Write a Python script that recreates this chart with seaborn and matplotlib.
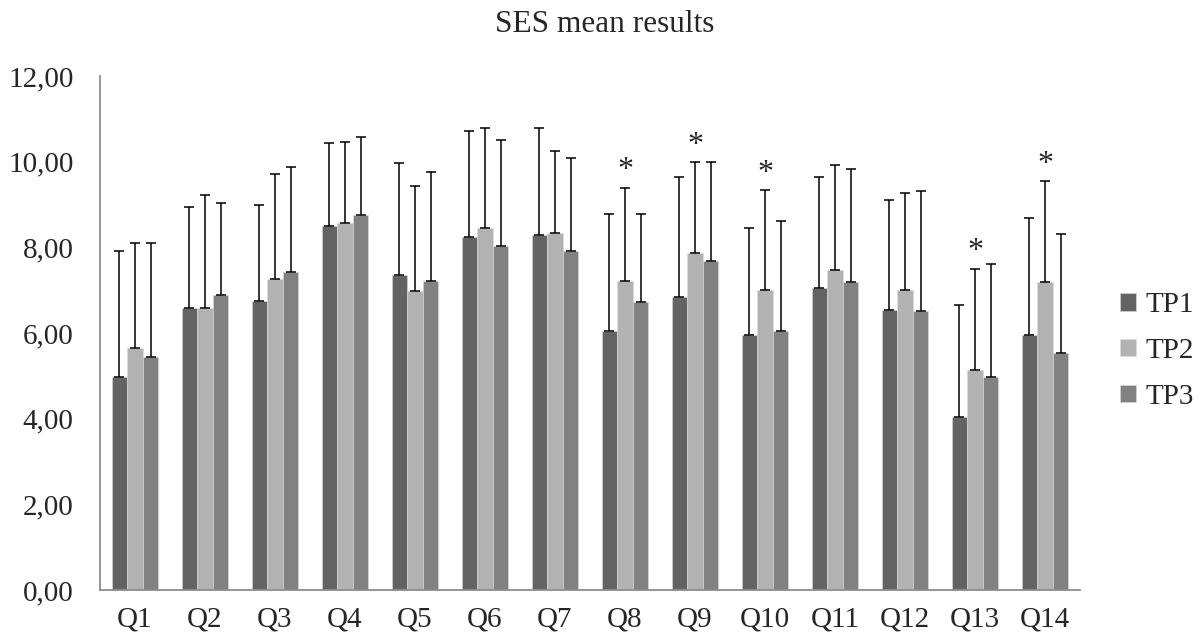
import numpy as np
import pandas as pd
import seaborn as sns
import matplotlib
matplotlib.use("Agg")
import matplotlib.pyplot as plt

questions = ["Q1", "Q2", "Q3", "Q4", "Q5", "Q6", "Q7", "Q8", "Q9", "Q10", "Q11", "Q12", "Q13", "Q14"]
timepoints = ["TP1", "TP2", "TP3"]

tp1_mean = [4.98, 6.58, 6.75, 8.49, 7.36, 8.24, 8.29, 6.04, 6.84, 5.96, 7.05, 6.54, 4.03, 5.96]
tp2_mean = [5.65, 6.58, 7.26, 8.57, 6.97, 8.45, 8.33, 7.22, 7.86, 7.01, 7.48, 7.01, 5.14, 7.18]
tp3_mean = [5.43, 6.89, 7.43, 8.75, 7.22, 8.03, 7.91, 6.72, 7.69, 6.04, 7.18, 6.51, 4.98, 5.53]

tp1_sd = [2.94, 2.37, 2.25, 1.95, 2.61, 2.48, 2.50, 2.73, 2.81, 2.49, 2.59, 2.57, 2.63, 2.72]
tp2_sd = [2.46, 2.65, 2.45, 1.89, 2.46, 2.34, 1.91, 2.17, 2.13, 2.32, 2.44, 2.26, 2.36, 2.36]
tp3_sd = [2.66, 2.15, 2.45, 1.82, 2.54, 2.47, 2.17, 2.06, 2.31, 2.57, 2.66, 2.81, 2.64, 2.78]

# questions with a significant TP1 -> TP2 change (asterisk over TP2)
significant = ["Q8", "Q9", "Q10", "Q13", "Q14"]

colors = ["#636363", "#b2b2b2", "#818181"]

means = [tp1_mean, tp2_mean, tp3_mean]
sds = [tp1_sd, tp2_sd, tp3_sd]

df = pd.DataFrame({
    "question": questions * 3,
    "tp": np.repeat(timepoints, len(questions)),
    "mean": tp1_mean + tp2_mean + tp3_mean,
})

sns.set_style("white")
plt.rcParams["font.family"] = ["Liberation Serif", "DejaVu Serif"]

fig = plt.figure(figsize=(12, 6.4), dpi=100)
ax = fig.add_axes([100 / 1200, 50 / 640, 980 / 1200, 514 / 640])

sns.barplot(data=df, x="question", y="mean", hue="tp", order=questions,
            hue_order=timepoints, palette=colors, saturation=1, width=0.667,
            errorbar=None, edgecolor="#dcdcdc", linewidth=0.4, ax=ax)

# one-sided (upper) error bars, like the Excel original
for cont, m, s in zip(ax.containers, means, sds):
    xs = [p.get_x() + p.get_width() / 2 for p in cont.patches]
    ax.errorbar(xs, m, yerr=[np.zeros(len(m)), s], fmt="none", ecolor="black",
                elinewidth=1.1, capsize=3.4, capthick=1.1)

tp2_x = [p.get_x() + p.get_width() / 2 for p in ax.containers[1].patches]
for i, q in enumerate(questions):
    if q in significant:
        ax.text(tp2_x[i], tp2_mean[i] + tp2_sd[i] + 0.06, "*", ha="center",
                va="bottom", fontsize=23)

ax.set_ylim(0, 12)
ax.set_xlim(-0.5, len(questions) - 0.5)
ax.set_yticks(np.arange(0, 13, 2))
ax.set_yticklabels([f"{v:.2f}".replace(".", ",") for v in np.arange(0, 13, 2)])
ax.tick_params(axis="both", length=0, labelsize=21)
ax.tick_params(axis="y", pad=19)
ax.tick_params(axis="x", pad=12)
ax.set_xlabel("")
ax.set_ylabel("")
for side in ["top", "right"]:
    ax.spines[side].set_visible(False)
for side in ["left", "bottom"]:
    ax.spines[side].set_color("#8c8c8c")
    ax.spines[side].set_linewidth(1.3)

handles, labels = ax.get_legend_handles_labels()
ax.legend(handles, labels, loc="center left", bbox_to_anchor=(1094 / 1200, 1 - 351 / 640),
          bbox_transform=fig.transFigure, frameon=False, fontsize=21,
          handlelength=0.55, handleheight=0.55, handletextpad=0.3, labelspacing=0.68)

fig.text(605 / 1200, 1 - 24 / 640, "SES mean results", ha="center", va="center", fontsize=22.5)

plt.savefig("out.png", dpi=100)
